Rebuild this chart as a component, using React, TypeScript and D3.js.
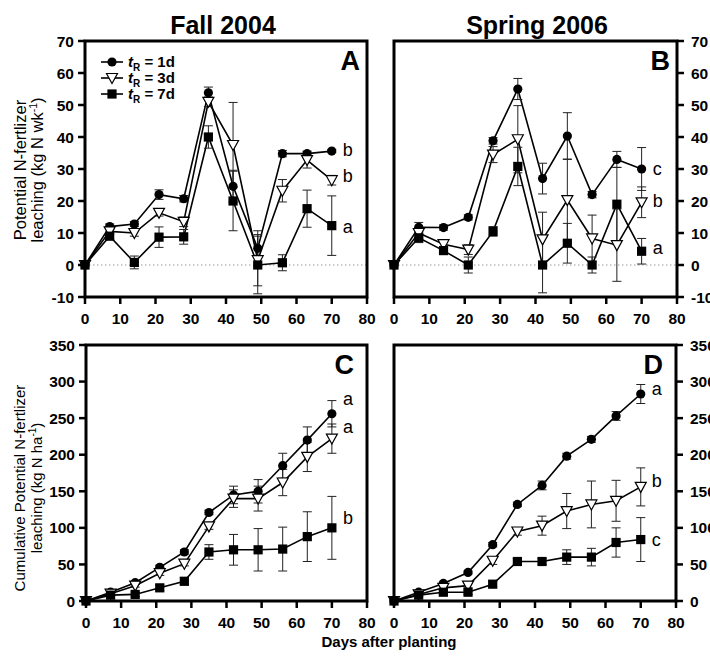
import React from 'react';
import * as d3 from 'd3';

const days = [0, 7, 14, 21, 28, 35, 42, 49, 56, 63, 70];
const seriesLabels = ['1d', '3d', '7d'];
const markerTypes = ['circle', 'triangle', 'square'];
const xTicks = [0, 10, 20, 30, 40, 50, 60, 70, 80];
const weeklyTicks = [-10, 0, 10, 20, 30, 40, 50, 60, 70];
const cumTicks = [0, 50, 100, 150, 200, 250, 300, 350];

// Panel A: Fall 2004 weekly
const fallWeekly1d = [0, 12.0, 12.8, 22.0, 20.7, 53.8, 24.6, 5.2, 34.8, 34.8, 35.6];
const fallWeekly1dErr = [0, 0.8, 0.8, 1.5, 1, 1.8, 5, 5.5, 1, 0.8, 0.5];
const fallWeekly3d = [0, 10.5, 10.0, 16.3, 13.5, 51.0, 37.5, 1.5, 23.2, 32.8, 26.5];
const fallWeekly3dErr = [0, 1, 1, 1, 1.5, 1.5, 13.3, 8, 3.5, 2.5, 1.5];
const fallWeekly7d = [0, 9.0, 0.8, 8.7, 8.8, 40.0, 20.0, 0, 0.7, 17.6, 12.3];
const fallWeekly7dErr = [0, 1, 2, 3.2, 2.3, 3.5, 9.3, 9, 2.5, 5.8, 9.3];
const fallWeeklyLetters = ['b', 'b', 'a'];
const fallWeeklyLetterY = [36, 28, 12];

// Panel B: Spring 2006 weekly
const springWeekly1d = [0, 11.8, 11.7, 14.9, 38.8, 55.0, 27.0, 40.3, 22.0, 33.0, 30.0];
const springWeekly1dErr = [0, 1.5, 0.8, 0.8, 1, 3.3, 4.8, 7.3, 1, 2.5, 6.7];
const springWeekly3d = [0, 10, 6.5, 4.8, 34.5, 39.3, 8.0, 20.3, 8.3, 6.2, 19.6];
const springWeekly3dErr = [0, 1.5, 1, 1.5, 2.5, 10.5, 8.5, 12.8, 7.3, 11.3, 4.8];
const springWeekly7d = [0, 8.5, 4.5, 0, 10.5, 30.8, 0, 6.8, 0, 19, 4.3];
const springWeekly7dErr = [0, 1.5, 1, 2.5, 1.5, 6, 8.7, 6.2, 2.5, 11.5, 4];
const springWeeklyLetters = ['c', 'b', 'a'];
const springWeeklyLetterY = [30, 20, 5.5];

// Panel C: Fall 2004 cumulative
const fallCum1d = [0, 12, 25, 46, 67, 121, 145, 150, 185, 220, 256];
const fallCum1dErr = [0, 2, 2, 3, 3, 3, 12, 16, 17, 18, 18];
const fallCum3d = [0, 10, 21, 38, 51, 102, 140, 140, 162, 197, 222];
const fallCum3dErr = [0, 2, 2, 3, 3, 4, 12, 17, 18, 20, 20];
const fallCum7d = [0, 8, 9, 18, 27, 67, 70, 70, 71, 88, 100];
const fallCum7dErr = [0, 2, 3, 4, 5, 10, 21, 29, 30, 34, 43];
const fallCumLetters = ['a', 'a', 'b'];
const fallCumLetterY = [277, 238, 114];

// Panel D: Spring 2006 cumulative
const springCum1d = [0, 12, 24, 39, 77, 132, 158, 198, 221, 253, 283];
const springCum1dErr = [0, 2, 2, 2, 3, 3, 6, 4, 4, 6, 13];
const springCum3d = [0, 9, 18, 21, 55, 95, 103, 123, 132, 137, 156];
const springCum3dErr = [0, 2, 2, 3, 5, 5, 13, 24, 32, 28, 26];
const springCum7d = [0, 8, 12, 12, 23, 54, 54, 60, 60, 80, 84];
const springCum7dErr = [0, 2, 3, 3, 4, 4, 4, 10, 12, 20, 30];
const springCumLetters = ['a', 'b', 'c'];
const springCumLetterY = [290, 164, 84];

const FONT = '"Liberation Sans", Arial, Helvetica, sans-serif';

function Marker({ type, x, y }: { type: string; x: number; y: number }) {
  if (type === 'circle') return <circle cx={x} cy={y} r={4.6} fill="#000" />;
  if (type === 'square') return <rect x={x - 4.6} y={y - 4.6} width={9.2} height={9.2} fill="#000" />;
  return (
    <path
      d={`M${x - 5.5},${y - 4.5}L${x + 5.5},${y - 4.5}L${x},${y + 5.5}Z`}
      fill="#fff"
      stroke="#000"
      strokeWidth={1.2}
    />
  );
}

type PanelProps = {
  left: number; right: number; top: number; bottom: number;
  yDomain: [number, number]; yTicks: number[]; side: 'left' | 'right';
  values: number[][]; errors: number[][]; letters: string[]; letterY: number[];
  label: string; labelDx: number; zeroLine: boolean;
};

function Panel(p: PanelProps) {
  const x = d3.scaleLinear().domain([0, 80]).range([p.left, p.right]);
  const y = d3.scaleLinear().domain(p.yDomain).range([p.bottom, p.top]);
  const line = d3.line<number>().x((_, i) => x(days[i])).y((d) => y(d));
  const tick = 7;
  return (
    <g>
      {p.zeroLine && (
        <line x1={p.left} x2={p.right} y1={y(0)} y2={y(0)} stroke="#999" strokeWidth={1} strokeDasharray="1.5,2.5" />
      )}
      {p.values.map((vals, si) => (
        <path key={'l' + si} d={line(vals) || ''} fill="none" stroke="#000" strokeWidth={1.6} />
      ))}
      {p.values.map((vals, si) => (
        <g key={'e' + si}>
          {vals.map((v, i) => {
            const e = p.errors[si][i];
            if (!e) return null;
            const cx = x(days[i]);
            return (
              <g key={i} stroke="#222" strokeWidth={1}>
                <line x1={cx} x2={cx} y1={y(v - e)} y2={y(v + e)} />
                <line x1={cx - 4.5} x2={cx + 4.5} y1={y(v - e)} y2={y(v - e)} />
                <line x1={cx - 4.5} x2={cx + 4.5} y1={y(v + e)} y2={y(v + e)} />
              </g>
            );
          })}
        </g>
      ))}
      {p.values.map((vals, si) => (
        <g key={'m' + si}>
          {vals.map((v, i) => (
            <Marker key={i} type={markerTypes[si]} x={x(days[i])} y={y(v)} />
          ))}
        </g>
      ))}
      {p.letters.map((l, i) => (
        <text key={'s' + i} x={x(70) + 11} y={y(p.letterY[i])} dy="0.35em" fontSize={18} fontFamily={FONT}>
          {l}
        </text>
      ))}
      <text x={p.right - p.labelDx} y={p.top + 29} textAnchor="end" fontSize={27} fontWeight="bold" fontFamily={FONT}>
        {p.label}
      </text>
      <rect x={p.left} y={p.top} width={p.right - p.left} height={p.bottom - p.top} fill="none" stroke="#000" strokeWidth={3} />
      {xTicks.map((t) => (
        <g key={'x' + t}>
          <line x1={x(t)} x2={x(t)} y1={p.bottom} y2={p.bottom + tick} stroke="#000" strokeWidth={2.5} />
          <text x={x(t)} y={p.bottom + 27} textAnchor="middle" fontSize={15.5} fontWeight="bold" fontFamily={FONT}>
            {t}
          </text>
        </g>
      ))}
      {p.yTicks.map((t) => {
        const yy = y(t);
        if (p.side === 'left') {
          return (
            <g key={'y' + t}>
              <line x1={p.left - tick} x2={p.left} y1={yy} y2={yy} stroke="#000" strokeWidth={2.5} />
              <text x={p.left - 11} y={yy} dy="0.36em" textAnchor="end" fontSize={15.5} fontWeight="bold" fontFamily={FONT}>
                {t}
              </text>
            </g>
          );
        }
        return (
          <g key={'y' + t}>
            <line x1={p.right} x2={p.right + tick} y1={yy} y2={yy} stroke="#000" strokeWidth={2.5} />
            <text x={p.right + 14} y={yy} dy="0.36em" textAnchor="start" fontSize={15.5} fontWeight="bold" fontFamily={FONT}>
              {t}
            </text>
          </g>
        );
      })}
    </g>
  );
}

function Legend({ x0, y0 }: { x0: number; y0: number }) {
  return (
    <g>
      {seriesLabels.map((s, i) => {
        const yy = y0 + i * 16;
        return (
          <g key={s}>
            <line x1={x0} x2={x0 + 22} y1={yy} y2={yy} stroke="#000" strokeWidth={1.6} />
            <Marker type={markerTypes[i]} x={x0 + 11} y={yy} />
            <text x={x0 + 27} y={yy} dy="0.35em" fontSize={15} fontWeight="bold" fontFamily={FONT}>
              <tspan fontStyle="italic">t</tspan>
              <tspan fontSize={10} dy={4}>R</tspan>
              <tspan dy={-4}>{' = ' + s}</tspan>
            </text>
          </g>
        );
      })}
    </g>
  );
}

export default function App() {
  const A = { left: 85, right: 367, top: 41, bottom: 297 };
  const B = { left: 394, right: 677, top: 41, bottom: 297 };
  const C = { left: 86, right: 367, top: 345, bottom: 601 };
  const D = { left: 394, right: 676, top: 345, bottom: 601 };
  return (
    <svg width={710} height={658} viewBox="0 0 710 658" style={{ display: 'block', position: 'absolute', left: 0, top: 0, background: '#fff' }}>
      <rect x={0} y={0} width={710} height={658} fill="#fff" />
      <text x={223} y={34} textAnchor="middle" fontSize={25} fontWeight="bold" fontFamily={FONT}>Fall 2004</text>
      <text x={537} y={34} textAnchor="middle" fontSize={25} fontWeight="bold" fontFamily={FONT}>Spring 2006</text>
      <Panel {...A} yDomain={[-10, 70]} yTicks={weeklyTicks} side="left"
        values={[fallWeekly1d, fallWeekly3d, fallWeekly7d]}
        errors={[fallWeekly1dErr, fallWeekly3dErr, fallWeekly7dErr]}
        letters={fallWeeklyLetters} letterY={fallWeeklyLetterY} label="A" labelDx={7} zeroLine={true} />
      <Panel {...B} yDomain={[-10, 70]} yTicks={weeklyTicks} side="right"
        values={[springWeekly1d, springWeekly3d, springWeekly7d]}
        errors={[springWeekly1dErr, springWeekly3dErr, springWeekly7dErr]}
        letters={springWeeklyLetters} letterY={springWeeklyLetterY} label="B" labelDx={7} zeroLine={true} />
      <Panel {...C} yDomain={[0, 350]} yTicks={cumTicks} side="left"
        values={[fallCum1d, fallCum3d, fallCum7d]}
        errors={[fallCum1dErr, fallCum3dErr, fallCum7dErr]}
        letters={fallCumLetters} letterY={fallCumLetterY} label="C" labelDx={13} zeroLine={false} />
      <Panel {...D} yDomain={[0, 350]} yTicks={cumTicks} side="right"
        values={[springCum1d, springCum3d, springCum7d]}
        errors={[springCum1dErr, springCum3dErr, springCum7dErr]}
        letters={springCumLetters} letterY={springCumLetterY} label="D" labelDx={13} zeroLine={false} />
      <Legend x0={101} y0={62} />
      <g fontFamily={FONT} textAnchor="middle">
        <text fontSize={16.5} transform="translate(26,170) rotate(-90)">Potential N-fertlizer</text>
        <text fontSize={16.5} transform="translate(43,170) rotate(-90)">
          leaching (kg N wk<tspan fontSize={10.5} dy={-6}>-1</tspan><tspan dy={6}>)</tspan>
        </text>
        <text fontSize={15} transform="translate(25,488) rotate(-90)">Cumulative Potential N-fertlizer</text>
        <text fontSize={15} transform="translate(42,488) rotate(-90)">
          leaching (kg N ha<tspan fontSize={10} dy={-6}>-1</tspan><tspan dy={6}>)</tspan>
        </text>
      </g>
      <text x={389} y={647} textAnchor="middle" fontSize={15} fontWeight="bold" fontFamily={FONT}>Days after planting</text>
    </svg>
  );
}
